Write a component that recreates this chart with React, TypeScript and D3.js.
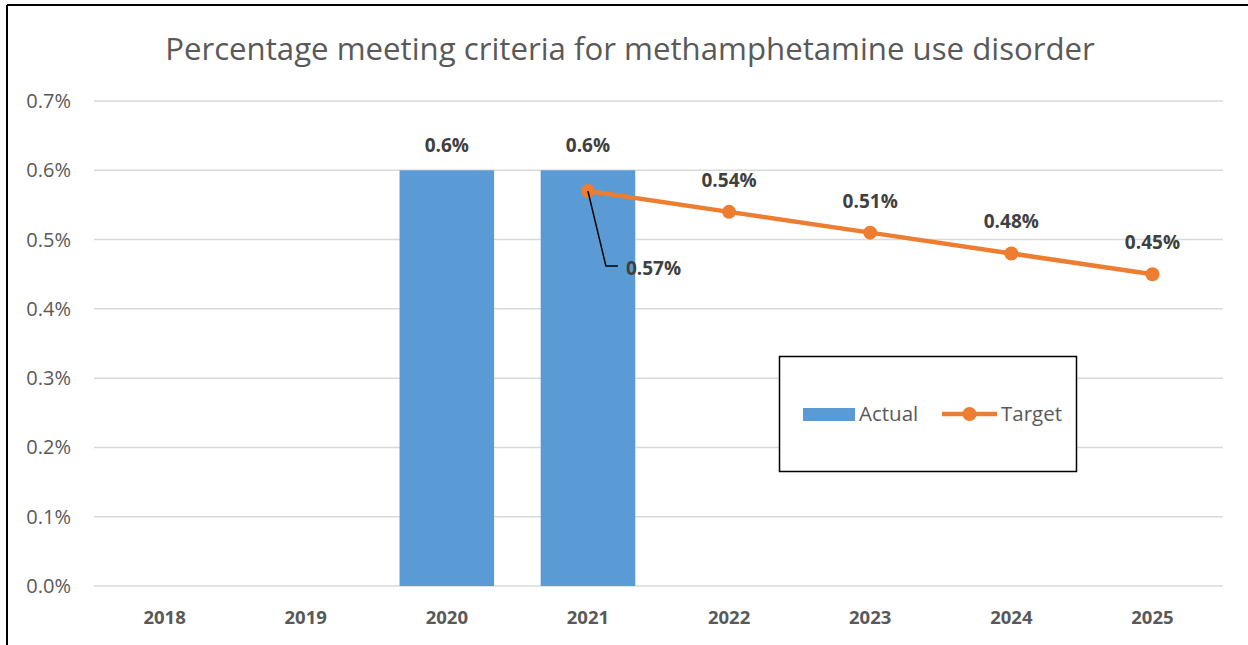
import * as d3 from "d3";

const years = ["2018", "2019", "2020", "2021", "2022", "2023", "2024", "2025"];
const actual: (number | null)[] = [null, null, 0.6, 0.6, null, null, null, null];
const target: (number | null)[] = [null, null, null, 0.57, 0.54, 0.51, 0.48, 0.45];
const yTicks = [0, 0.1, 0.2, 0.3, 0.4, 0.5, 0.6, 0.7];

const W = 1248;
const H = 645;
const FONT = "'Open Sans', 'Liberation Sans', sans-serif";
const BLUE = "#5B9BD5";
const ORANGE = "#ED7D31";
const GRAY = "#595959";
const DARK = "#404040";

const App = () => {
  const x = d3.scaleBand().domain(years).range([94, 1223]).paddingInner(0.33).paddingOuter(0.165);
  const xc = (d: string) => (x(d) as number) + x.bandwidth() / 2;
  const y = d3.scaleLinear().domain([0, 0.7]).range([586, 101]);

  const pts = years
    .map((yr, i) => ({ yr, v: target[i] }))
    .filter((p) => p.v !== null) as { yr: string; v: number }[];
  const line = d3
    .line<{ yr: string; v: number }>()
    .x((d) => xc(d.yr))
    .y((d) => y(d.v));

  return (
    <svg width={W} height={H} style={{ position: "absolute", left: 0, top: 0 }} fontFamily={FONT}>
      <rect x={0} y={0} width={W} height={H} fill="#fff" />
      {/* frame, cropped on the right and bottom */}
      <line x1={7} y1={5} x2={W} y2={5} stroke="#000" strokeWidth={2} />
      <line x1={7} y1={5} x2={7} y2={H} stroke="#000" strokeWidth={2} />

      <text x={630} y={60} textAnchor="middle" fontSize={31.2} fill={GRAY}>
        Percentage meeting criteria for methamphetamine use disorder
      </text>

      {yTicks.map((t) => (
        <g key={t}>
          <line x1={94} x2={1223} y1={y(t)} y2={y(t)} stroke="#d9d9d9" strokeWidth={1.5} />
          <text x={71} y={y(t)} dy="0.35em" textAnchor="end" fontSize={20} fill={GRAY}>
            {d3.format(".1%")(t / 100)}
          </text>
        </g>
      ))}

      {years.map((yr) => (
        <text key={yr} x={xc(yr)} y={624} textAnchor="middle" fontSize={18.5} fontWeight="bold" fill={GRAY}>
          {yr}
        </text>
      ))}

      {years.map((yr, i) =>
        actual[i] === null ? null : (
          <g key={"b" + yr}>
            <rect x={x(yr)} y={y(actual[i] as number)} width={x.bandwidth()} height={y(0) - y(actual[i] as number)} fill={BLUE} />
            <text x={xc(yr)} y={y(actual[i] as number) - 18} textAnchor="middle" fontSize={19} fontWeight="bold" fill={DARK}>
              {d3.format(".1f")(actual[i] as number)}%
            </text>
          </g>
        )
      )}

      <path d={line(pts) as string} fill="none" stroke={ORANGE} strokeWidth={4.5} />
      {pts.map((p) => (
        <circle key={p.yr} cx={xc(p.yr)} cy={y(p.v)} r={7} fill={ORANGE} />
      ))}
      {pts.map((p, i) =>
        i === 0 ? (
          <g key={"l" + p.yr}>
            <polyline
              points={`${xc(p.yr)},${y(p.v)} ${xc(p.yr) + 18},${y(p.v) + 75} ${xc(p.yr) + 30},${y(p.v) + 75}`}
              fill="none"
              stroke="#000"
              strokeWidth={1.5}
            />
            <text x={xc(p.yr) + 38} y={y(p.v) + 77} dy="0.35em" fontSize={19} fontWeight="bold" fill={DARK}>
              {p.v.toFixed(2)}%
            </text>
          </g>
        ) : (
          <text key={"l" + p.yr} x={xc(p.yr)} y={y(p.v) - 25} textAnchor="middle" fontSize={19} fontWeight="bold" fill={DARK}>
            {p.v.toFixed(2)}%
          </text>
        )
      )}

      <g>
        <rect x={779.5} y={356.5} width={297} height={115} fill="#fff" stroke="#000" strokeWidth={1.5} />
        <rect x={803} y={408} width={52} height={13} fill={BLUE} />
        <text x={859} y={414} dy="0.35em" fontSize={20.5} fill={GRAY}>Actual</text>
        <line x1={942} x2={997} y1={414} y2={414} stroke={ORANGE} strokeWidth={4.5} />
        <circle cx={969.5} cy={414} r={7} fill={ORANGE} />
        <text x={1001} y={414} dy="0.35em" fontSize={20.5} fill={GRAY}>Target</text>
      </g>
    </svg>
  );
};

export default App;
